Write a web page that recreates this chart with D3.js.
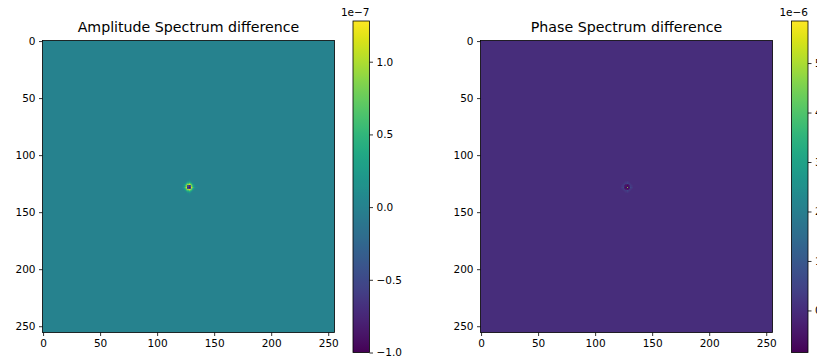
<!DOCTYPE html>
<html>
<head>
<meta charset="utf-8">
<script src="https://cdn.jsdelivr.net/npm/d3@7"></script>
<style>
  body { margin: 0; background: #fff; }
  svg { font-family: "DejaVu Sans", sans-serif; display: block; }
</style>
</head>
<body>
<div id="app"></div>
<script>
// image size (pixels of the 2-D spectra)
const N = 256;
const axisTicks = [0, 50, 100, 150, 200, 250];

// amplitude difference (x1e-7): flat background + patch around the centre pixel
const ampBackground = 0;
const ampDomain = [-1.0, 1.28];
const ampTicks = [-1.0, -0.5, 0.0, 0.5, 1.0];
const ampPatchStart = 121;
const ampPatch = [
  [0, 0, 0, 0, 0, 0, 0, .05, 0, 0, 0, 0, 0, 0, 0],
  [0, 0, 0, 0, 0, 0, .05, .1, .05, 0, 0, 0, 0, 0, 0],
  [0, 0, 0, 0, 0, .05, .15, .25, .15, .05, 0, 0, 0, 0, 0],
  [0, 0, 0, 0, .05, .15, .35, .45, .35, .15, .05, 0, 0, 0, 0],
  [0, 0, 0, .05, .15, .45, .6, .8, .6, .45, .15, .05, 0, 0, 0],
  [0, 0, .05, .15, .35, .65, .95, 1.15, .95, .65, .35, .15, .05, 0, 0],
  [0, .05, .1, .25, .55, .85, -.4, -.7, -.4, .85, .55, .25, .1, .05, 0],
  [.05, .1, .2, .45, .75, 1.15, -.7, -.9, -.7, 1.15, .75, .45, .2, .1, .05],
  [0, .05, .1, .25, .55, .85, -.4, -.7, -.4, .85, .55, .25, .1, .05, 0],
  [0, 0, .05, .15, .35, .65, .95, 1.15, .95, .65, .35, .15, .05, 0, 0],
  [0, 0, 0, .05, .15, .45, .6, .8, .6, .45, .15, .05, 0, 0, 0],
  [0, 0, 0, 0, .05, .15, .35, .45, .35, .15, .05, 0, 0, 0, 0],
  [0, 0, 0, 0, 0, .05, .15, .25, .15, .05, 0, 0, 0, 0, 0],
  [0, 0, 0, 0, 0, 0, .05, .1, .05, 0, 0, 0, 0, 0, 0],
  [0, 0, 0, 0, 0, 0, 0, .05, 0, 0, 0, 0, 0, 0, 0]
];

// phase difference (x1e-6)
const phaseBackground = 0;
const phaseDomain = [-0.85, 5.85];
const phaseTicks = [0, 1, 2, 3, 4, 5];
const phasePatchStart = 123;
const phasePatch = [
  [0, 0, 0, 0, .1, .2, .1, 0, 0, 0, 0],
  [0, 0, 0, .1, .2, .4, .2, .1, 0, 0, 0],
  [0, 0, .1, .2, .3, .6, .3, .2, .1, 0, 0],
  [0, .1, .2, .3, -.3, -.5, -.3, .3, .2, .1, 0],
  [.1, .2, .3, -.3, -.5, -.7, -.5, -.3, .3, .2, .1],
  [.2, .4, .6, -.5, -.7, 4.5, -.7, -.5, .6, .4, .2],
  [.1, .2, .3, -.3, -.5, -.7, -.5, -.3, .3, .2, .1],
  [0, .1, .2, .3, -.3, -.5, -.3, .3, .2, .1, 0],
  [0, 0, .1, .2, .3, .6, .3, .2, .1, 0, 0],
  [0, 0, 0, .1, .2, .4, .2, .1, 0, 0, 0],
  [0, 0, 0, 0, .1, .2, .1, 0, 0, 0, 0]
];

const W = 817, H = 363;
const svg = d3.select("#app").append("svg").attr("width", W).attr("height", H);
const defs = svg.append("defs");
const fmt1 = d => d3.format(".1f")(d).replace("-", "\u2212");
const fmt0 = d => d3.format("d")(d).replace("-", "\u2212");

function panel(opt) {
  const { id, x0, y0, size, title, background, patch, start, domain, ticks, cbX, exp, fmt } = opt;
  const x = d3.scaleLinear().domain([-0.5, N - 0.5]).range([x0, x0 + size]);
  const y = d3.scaleLinear().domain([-0.5, N - 0.5]).range([y0, y0 + size]);
  const color = d3.scaleSequential(d3.interpolateViridis).domain(domain);

  const g = svg.append("g");
  // background of the image
  g.append("rect")
    .attr("x", x(-0.5)).attr("y", y(-0.5))
    .attr("width", x(N - 0.5) - x(-0.5)).attr("height", y(N - 0.5) - y(-0.5))
    .attr("fill", color(background));

  const cells = [];
  patch.forEach((row, i) => row.forEach((v, j) => cells.push({ r: start + i, c: start + j, v })));
  g.selectAll("rect.cell").data(cells).enter().append("rect")
    .attr("class", "cell")
    .attr("x", d => x(d.c - 0.5)).attr("y", d => y(d.r - 0.5))
    .attr("width", x(1) - x(0)).attr("height", y(1) - y(0))
    .attr("shape-rendering", "crispEdges")
    .attr("fill", d => color(d.v));

  g.append("rect")
    .attr("x", x0).attr("y", y0).attr("width", size).attr("height", size)
    .attr("fill", "none").attr("stroke", "#000").attr("stroke-width", 0.8);

  const xAxis = g.append("g").attr("transform", `translate(0,${y0 + size})`)
    .call(d3.axisBottom(x).tickValues(axisTicks).tickSize(3.5).tickPadding(3.5));
  const yAxis = g.append("g").attr("transform", `translate(${x0},0)`)
    .call(d3.axisLeft(y).tickValues(axisTicks).tickSize(3.5).tickPadding(3.5));
  [xAxis, yAxis].forEach(a => {
    a.select(".domain").remove();
    a.selectAll("line").attr("stroke", "#000").attr("stroke-width", 0.8);
    a.selectAll("text").attr("font-size", 10.5).attr("fill", "#000").attr("font-family", "DejaVu Sans");
  });

  g.append("text").attr("x", x0 + size / 2).attr("y", y0 - 9)
    .attr("text-anchor", "middle").attr("font-size", 14.2).text(title);

  // colorbar as a vertical gradient
  const cbTop = 21, cbBot = 352.5, cbW = 16.5;
  const cy = d3.scaleLinear().domain(domain).range([cbBot, cbTop]);
  const grad = defs.append("linearGradient").attr("id", id)
    .attr("x1", 0).attr("y1", 1).attr("x2", 0).attr("y2", 0);
  d3.range(0, 1.0001, 0.02).forEach(t => {
    grad.append("stop").attr("offset", t)
      .attr("stop-color", color(domain[0] + t * (domain[1] - domain[0])));
  });
  g.append("rect").attr("x", cbX).attr("y", cbTop).attr("width", cbW).attr("height", cbBot - cbTop)
    .attr("fill", `url(#${id})`).attr("stroke", "#000").attr("stroke-width", 0.8);
  const cAxis = g.append("g").attr("transform", `translate(${cbX + cbW},0)`)
    .call(d3.axisRight(cy).tickValues(ticks).tickFormat(fmt).tickSize(3.5).tickPadding(3.5));
  cAxis.select(".domain").remove();
  cAxis.selectAll("line").attr("stroke", "#000").attr("stroke-width", 0.8);
  cAxis.selectAll("text").attr("font-size", 10.5).attr("fill", "#000").attr("font-family", "DejaVu Sans");
  g.append("text").attr("x", cbX + cbW).attr("y", cbTop - 5)
    .attr("text-anchor", "end").attr("font-size", 10.5).text(exp);
}

panel({
  id: "cbAmp", x0: 42.5, y0: 40.5, size: 292, title: "Amplitude Spectrum difference",
  background: ampBackground, patch: ampPatch, start: ampPatchStart,
  domain: ampDomain, ticks: ampTicks, cbX: 353, exp: "1e\u22127", fmt: fmt1
});
panel({
  id: "cbPhase", x0: 480.5, y0: 40.5, size: 292, title: "Phase Spectrum difference",
  background: phaseBackground, patch: phasePatch, start: phasePatchStart,
  domain: phaseDomain, ticks: phaseTicks, cbX: 791.5, exp: "1e\u22126", fmt: fmt0
});
</script>
</body>
</html>
